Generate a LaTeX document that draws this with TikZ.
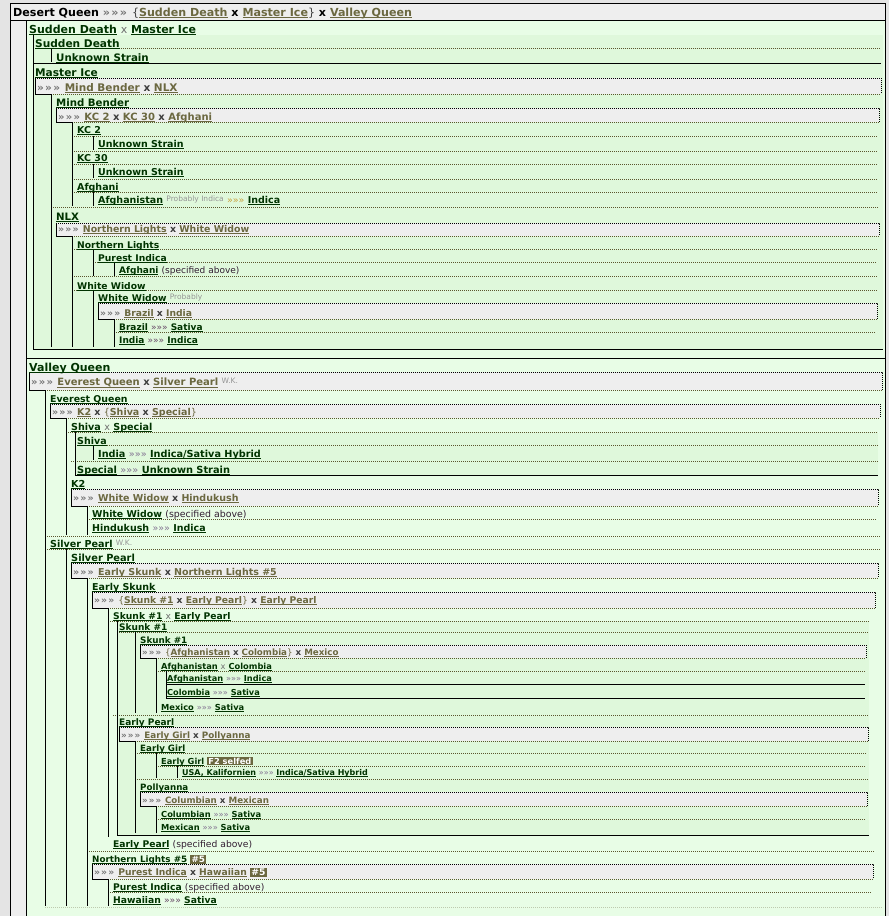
\documentclass[tikz,border=0pt]{standalone}
\usepackage{fontspec}
\setmainfont{DejaVu Sans}
\definecolor{pagegray}{RGB}{228,228,228}
\definecolor{stripgray}{RGB}{238,238,238}
\definecolor{boxgray}{RGB}{238,238,238}
\definecolor{lightgrn}{RGB}{232,253,230}
\definecolor{nestgrn}{RGB}{223,248,219}
\definecolor{dkgrn}{RGB}{0,51,0}
\definecolor{olv}{RGB}{107,104,64}
\definecolor{arrgray}{RGB}{118,118,118}
\definecolor{xdark}{RGB}{60,60,60}
\definecolor{xlight}{RGB}{110,110,110}
\definecolor{notegray}{RGB}{150,150,150}
\definecolor{gold}{RGB}{200,160,60}
\definecolor{purp}{RGB}{100,70,100}
\definecolor{lilac}{RGB}{130,115,145}
\definecolor{dotc}{RGB}{90,85,45}
\definecolor{specc}{RGB}{50,30,50}
\newsavebox{\lkbox}
\newcommand{\lk}[1]{\sbox{\lkbox}{#1}\rlap{\rule[-0.18em]{\wd\lkbox}{0.09em}}\usebox{\lkbox}}
\newcommand{\rr}[1][arrgray]{\textcolor{#1}{»\kern.12em»\kern.12em»\kern.1em}}
\newcommand{\ra}[1][lilac]{\textcolor{#1}{\mdseries»»»}}
\newcommand{\xs}{\textcolor{xlight}{\mdseries x}}
\newcommand{\xb}{\textcolor{xdark}{x}}
\newcommand{\note}[1]{\raisebox{2pt}{\textcolor{notegray}{\mdseries\fontsize{7.5}{7.5}\selectfont #1}}}
\newcommand{\spec}{\textcolor{specc}{\mdseries(specified above)}}
\newcommand{\badge}[1]{{\setlength{\fboxsep}{1.2pt}\colorbox{olv}{\textcolor{white}{#1}}}}

\begin{document}
\begin{tikzpicture}[x=1pt,y=-1pt,
  nm/.style={anchor=base west,inner sep=0pt,text=dkgrn,font=\bfseries\fontsize{#1}{#1}\selectfont},
  gbx/.style={anchor=base west,inner sep=0pt,text=olv,font=\bfseries\fontsize{#1}{#1}\selectfont},
  bln/.style={line width=1pt,black},
  dln/.style={line width=1pt,dotc,dash pattern=on 1pt off 1pt},
  bdln/.style={line width=1pt,black,dash pattern=on 1pt off 1pt}]
  \useasboundingbox (0,0) rectangle (889,916);
  % Backgrounds
  \fill[pagegray] (0,0) rectangle (889,916);
  \fill[stripgray] (10,3) rectangle (885,916);
  \fill[lightgrn] (26,20) rectangle (885,916);
  \fill[nestgrn] (33,35) rectangle (883,349);
  \fill[nestgrn] (75,432) rectangle (878,475);
  \fill[nestgrn] (117,621) rectangle (869,835);
  \fill[nestgrn] (166,671) rectangle (865,698);
  % Grey cross boxes
  \fill[boxgray] (35,78) rectangle (881,94);
  \fill[boxgray] (56,108) rectangle (879,122);
  \fill[boxgray] (56,223) rectangle (879,236);
  \fill[boxgray] (98,303) rectangle (877,319);
  \fill[boxgray] (29,372) rectangle (882,390);
  \fill[boxgray] (50,404) rectangle (880,418);
  \fill[boxgray] (71,489) rectangle (878,506);
  \fill[boxgray] (71,563) rectangle (878,578);
  \fill[boxgray] (92,592) rectangle (875,608);
  \fill[boxgray] (140,645) rectangle (866,658);
  \fill[boxgray] (119,727) rectangle (868,741);
  \fill[boxgray] (140,792) rectangle (867,806);
  \fill[boxgray] (92,864) rectangle (873,879);
  \draw[bdln] (35,78) -- (881,78) -- (881,94);
  \draw[bdln] (56,108) -- (879,108) -- (879,122);
  \draw[bdln] (56,223) -- (879,223) -- (879,236);
  \draw[bdln] (98,303) -- (877,303) -- (877,319);
  \draw[bdln] (29,372) -- (882,372) -- (882,390);
  \draw[bdln] (50,404) -- (880,404) -- (880,418);
  \draw[bdln] (71,489) -- (878,489) -- (878,506);
  \draw[bdln] (71,563) -- (878,563) -- (878,578);
  \draw[bdln] (92,592) -- (875,592) -- (875,608);
  \draw[bdln] (140,645) -- (866,645) -- (866,658);
  \draw[bdln] (119,727) -- (868,727) -- (868,741);
  \draw[bdln] (140,792) -- (867,792) -- (867,806);
  \draw[bdln] (92,864) -- (873,864) -- (873,879);
  % Dotted row lines
  \draw[dln] (51,94) -- (881,94);
  \draw[dln] (72,122) -- (879,122);
  \draw[dln] (72,236) -- (879,236);
  \draw[dln] (114,319) -- (877,319);
  \draw[dln] (45,390) -- (882,390);
  \draw[dln] (66,418) -- (880,418);
  \draw[dln] (87,506) -- (878,506);
  \draw[dln] (87,578) -- (878,578);
  \draw[dln] (108,608) -- (875,608);
  \draw[dln] (156,658) -- (866,658);
  \draw[dln] (135,741) -- (868,741);
  \draw[dln] (156,806) -- (867,806);
  \draw[dln] (108,879) -- (873,879);
  \draw[dln] (35,48) -- (880,48);
  \draw[dln] (72,136) -- (878,136);
  \draw[dln] (72,151) -- (878,151);
  \draw[dln] (72,164) -- (878,164);
  \draw[dln] (72,179) -- (878,179);
  \draw[dln] (72,192) -- (878,192);
  \draw[dln] (51,207) -- (879,207);
  \draw[dln] (72,249) -- (878,249);
  \draw[dln] (93,262) -- (877,262);
  \draw[dln] (72,276) -- (878,276);
  \draw[dln] (72,290) -- (878,290);
  \draw[dln] (114,332) -- (876,332);
  \draw[dln] (66,432) -- (878,432);
  \draw[dln] (75,445) -- (878,445);
  \draw[dln] (71,461) -- (878,461);
  \draw[dln] (87,519) -- (877,519);
  \draw[dln] (45,536) -- (880,536);
  \draw[dln] (45,549) -- (880,549);
  \draw[dln] (108,621) -- (869,621);
  \draw[dln] (117,632) -- (868,632);
  \draw[dln] (156,671) -- (865,671);
  \draw[dln] (113,715) -- (869,715);
  \draw[dln] (135,753) -- (866,753);
  \draw[dln] (156,766) -- (865,766);
  \draw[dln] (135,779) -- (868,779);
  \draw[dln] (156,819) -- (866,819);
  \draw[dln] (87,851) -- (875,851);
  \draw[dln] (108,892) -- (872,892);
  \draw[dln,opacity=0.3] (45,907) -- (882,907);
  % Frames
  \draw[bln] (10,916) -- (10,3) -- (885,3) -- (885,916);
  \draw[bln] (10,20) -- (885,20);
  \draw[bln] (26,20) -- (26,916);
  \draw[bln] (33,35) -- (33,349) -- (883,349);
  \draw[bln] (33,63) -- (881,63);
  \draw[bln] (26,358) -- (885,358);
  \draw[bln] (75,432) -- (75,475) -- (878,475);
  \draw[bln] (117,621) -- (117,835) -- (869,835);
  \draw[bln] (166,671) -- (166,698) -- (865,698);
  \draw[bln] (166,684) -- (865,684);
  % Tree lines
  \draw[bln] (51,48) -- (51,62);
  \draw[bln] (35,78) |- (51,94) -- (51,347);
  \draw[bln] (56,108) |- (72,122) -- (72,206);
  \draw[bln] (93,136) -- (93,150);
  \draw[bln] (93,164) -- (93,178);
  \draw[bln] (93,192) -- (93,206);
  \draw[bln] (56,223) |- (72,236) -- (72,347);
  \draw[bln] (93,249) -- (93,276);
  \draw[bln] (114,262) -- (114,276);
  \draw[bln] (93,290) -- (93,347);
  \draw[bln] (98,303) |- (114,319) -- (114,347);
  \draw[bln] (29,372) |- (45,390) -- (45,906);
  \draw[bln] (50,404) |- (66,418) -- (66,535);
  \draw[bln] (93,445) -- (93,460);
  \draw[bln] (71,489) |- (87,506) -- (87,535);
  \draw[bln] (66,549) -- (66,906);
  \draw[bln] (71,563) |- (87,578) -- (87,906);
  \draw[bln] (92,592) |- (108,608) -- (108,837);
  \draw[bln] (135,632) -- (135,713);
  \draw[bln] (140,645) |- (156,658) -- (156,713);
  \draw[bln] (119,727) |- (135,741) -- (135,833);
  \draw[bln] (156,753) -- (156,778);
  \draw[bln] (177,766) -- (177,778);
  \draw[bln] (140,792) |- (156,806) -- (156,833);
  \draw[bln] (92,864) |- (108,879) -- (108,906);
  % Desert Queen
  \node[gbx=11.1] (dq) at (13,16) {\textcolor{black}{Desert Queen} \rr{} {\mdseries\textcolor{xdark}{\{}}\lk{Sudden Death} \textcolor{black}{x} \lk{Master Ice}{\mdseries\textcolor{xdark}{\}}} \textcolor{black}{x} \lk{Valley Queen}};
  \node[nm=11] (sdmi) at (29,33) {\lk{Sudden Death} \xs{} \lk{Master Ice}};
  \node[nm=10.6] (sd) at (35,47) {\lk{Sudden Death}};
  \node[nm=10.3] (sdu) at (56,61) {\lk{Unknown Strain}};
  \node[nm=10.6] (mi) at (35,76) {\lk{Master Ice}};
  \node[gbx=10.5] (mibx) at (37,91) {\rr{} \lk{Mind Bender} \xb{} \lk{NLX}};
  \node[nm=10.2] (mb) at (56,106) {\lk{Mind Bender}};
  \node[gbx=10] (mbbx) at (58,120) {\rr{} \lk{KC 2} \xb{} \lk{KC 30} \xb{} \lk{Afghani}};
  \node[nm=9.5] (kc2) at (77,133.5) {\lk{KC 2}};
  \node[nm=9.5] (kc2u) at (98,147.5) {\lk{Unknown Strain}};
  \node[nm=9.5] (kc30) at (77,161.5) {\lk{KC 30}};
  \node[nm=9.5] (kc30u) at (98,175.5) {\lk{Unknown Strain}};
  \node[nm=9.5] (afg) at (77,190.5) {\lk{Afghani}};
  \node[nm=9.5] (afgi) at (98,203.5) {\lk{Afghanistan} \note{Probably Indica} \ra[gold] \lk{Indica}};
  \node[nm=10.2] (nlx) at (56,220) {\lk{NLX}};
  \node[gbx=9.4] (nlxbx) at (58,232.5) {\rr{} \lk{Northern Lights} \xb{} \lk{White Widow}};
  \node[nm=9.2] (nl) at (77,248.5) {\lk{Northern Lights}};
  \node[nm=9.2] (pi) at (98,261.5) {\lk{Purest Indica}};
  \node[nm=9] (pia) at (119,273.5) {\lk{Afghani} \spec};
  \node[nm=9.2] (ww) at (77,289.5) {\lk{White Widow}};
  \node[nm=9.2] (ww2) at (98,301.5) {\lk{White Widow} \note{Probably}};
  \node[gbx=9.2] (wwbx) at (100,316.5) {\rr{} \lk{Brazil} \xb{} \lk{India}};
  \node[nm=9] (brz) at (119,330.5) {\lk{Brazil} \ra[purp] \lk{Sativa}};
  \node[nm=9] (ind) at (119,343.5) {\lk{India} \ra[purp] \lk{Indica}};
  % Valley Queen
  \node[nm=11] (vq) at (29,371) {\lk{Valley Queen}};
  \node[gbx=10] (vqbx) at (31,385.7) {\rr{} \lk{Everest Queen} \xb{} \lk{Silver Pearl} \note{W.K.}};
  \node[nm=9.4] (eq) at (50,402.5) {\lk{Everest Queen}};
  \node[gbx=9.5] (eqbx) at (52,415.5) {\rr{} \lk{K2} \xb{} {\mdseries\textcolor{olv}{\{}}\lk{Shiva} \xb{} \lk{Special}{\mdseries\textcolor{olv}{\}}}};
  \node[nm=9.6] (shsp) at (71,430.5) {\lk{Shiva} \xs{} \lk{Special}};
  \node[nm=9.5] (sh) at (77,444.5) {\lk{Shiva}};
  \node[nm=9.7] (shi) at (98,457.5) {\lk{India} \ra{} \lk{Indica/Sativa Hybrid}};
  \node[nm=9.8] (sp) at (77,473.5) {\lk{Special} \ra{} \lk{Unknown Strain}};
  \node[nm=9.6] (k2) at (71,487.5) {\lk{K2}};
  \node[gbx=9.5] (k2bx) at (73,501.5) {\rr{} \lk{White Widow} \xb{} \lk{Hindukush}};
  \node[nm=9.4] (k2ww) at (92,517.5) {\lk{White Widow} \spec};
  \node[nm=9.5] (k2hk) at (92,531.5) {\lk{Hindukush} \ra{} \lk{Indica}};
  \node[nm=9.6] (sp1) at (50,547.5) {\lk{Silver Pearl} \note{W.K.}};
  \node[nm=9.8] (sp2) at (71,561.5) {\lk{Silver Pearl}};
  \node[gbx=9.5] (sp2bx) at (73,575.5) {\rr{} \lk{Early Skunk} \xb{} \lk{Northern Lights \#5}};
  \node[nm=9.5] (es) at (92,590.5) {\lk{Early Skunk}};
  \node[gbx=9.2] (esbx) at (94,603.5) {\rr{} {\mdseries\textcolor{olv}{\{}}\lk{Skunk \#1} \xb{} \lk{Early Pearl}{\mdseries\textcolor{olv}{\}}} \xb{} \lk{Early Pearl}};
  \node[nm=9.2] (skep) at (113,619.5) {\lk{Skunk \#1} \xs{} \lk{Early Pearl}};
  \node[nm=9] (sk1) at (119,630.5) {\lk{Skunk \#1}};
  \node[nm=8.8] (sk1b) at (140,643) {\lk{Skunk \#1}};
  \node[gbx=8.7] (sk1bx) at (142,655) {\rr{} {\mdseries\textcolor{olv}{\{}}\lk{Afghanistan} \xb{} \lk{Colombia}{\mdseries\textcolor{olv}{\}}} \xb{} \lk{Mexico}};
  \node[nm=8.3] (afco) at (161,669) {\lk{Afghanistan} \xs{} \lk{Colombia}};
  \node[nm=8.2] (afi) at (167,681) {\lk{Afghanistan} \ra{} \lk{Indica}};
  \node[nm=8.2] (cos) at (167,695) {\lk{Colombia} \ra{} \lk{Sativa}};
  \node[nm=8.3] (mxs) at (161,710) {\lk{Mexico} \ra{} \lk{Sativa}};
  \node[nm=9] (ep) at (119,725.5) {\lk{Early Pearl}};
  \node[gbx=8.8] (epbx) at (121,738) {\rr{} \lk{Early Girl} \xb{} \lk{Pollyanna}};
  \node[nm=8.7] (eg) at (140,751) {\lk{Early Girl}};
  \node[nm=8.3] (eg2) at (161,764) {\lk{Early Girl} \badge{F2 selfed}};
  \node[nm=8] (usa) at (182,775) {\lk{USA, Kalifornien} \ra{} \lk{Indica/Sativa Hybrid}};
  \node[nm=8.7] (pol) at (140,790) {\lk{Pollyanna}};
  \node[gbx=8.7] (polbx) at (142,803) {\rr{} \lk{Columbian} \xb{} \lk{Mexican}};
  \node[nm=8.3] (col) at (161,817) {\lk{Columbian} \ra{} \lk{Sativa}};
  \node[nm=8.3] (mex) at (161,830) {\lk{Mexican} \ra{} \lk{Sativa}};
  \node[nm=9.2] (epsa) at (113,847.5) {\lk{Early Pearl} \spec};
  \node[nm=8.8] (nl5) at (92,862.5) {\lk{Northern Lights \#5} \badge{\#5}};
  \node[gbx=9.2] (nl5bx) at (94,875.5) {\rr{} \lk{Purest Indica} \xb{} \lk{Hawaiian} \badge{\#5}};
  \node[nm=9.2] (pisa) at (113,890.5) {\lk{Purest Indica} \spec};
  \node[nm=9.2] (haw) at (113,903.5) {\lk{Hawaiian} \ra[purp] \lk{Sativa}};
\end{tikzpicture}
\end{document}
